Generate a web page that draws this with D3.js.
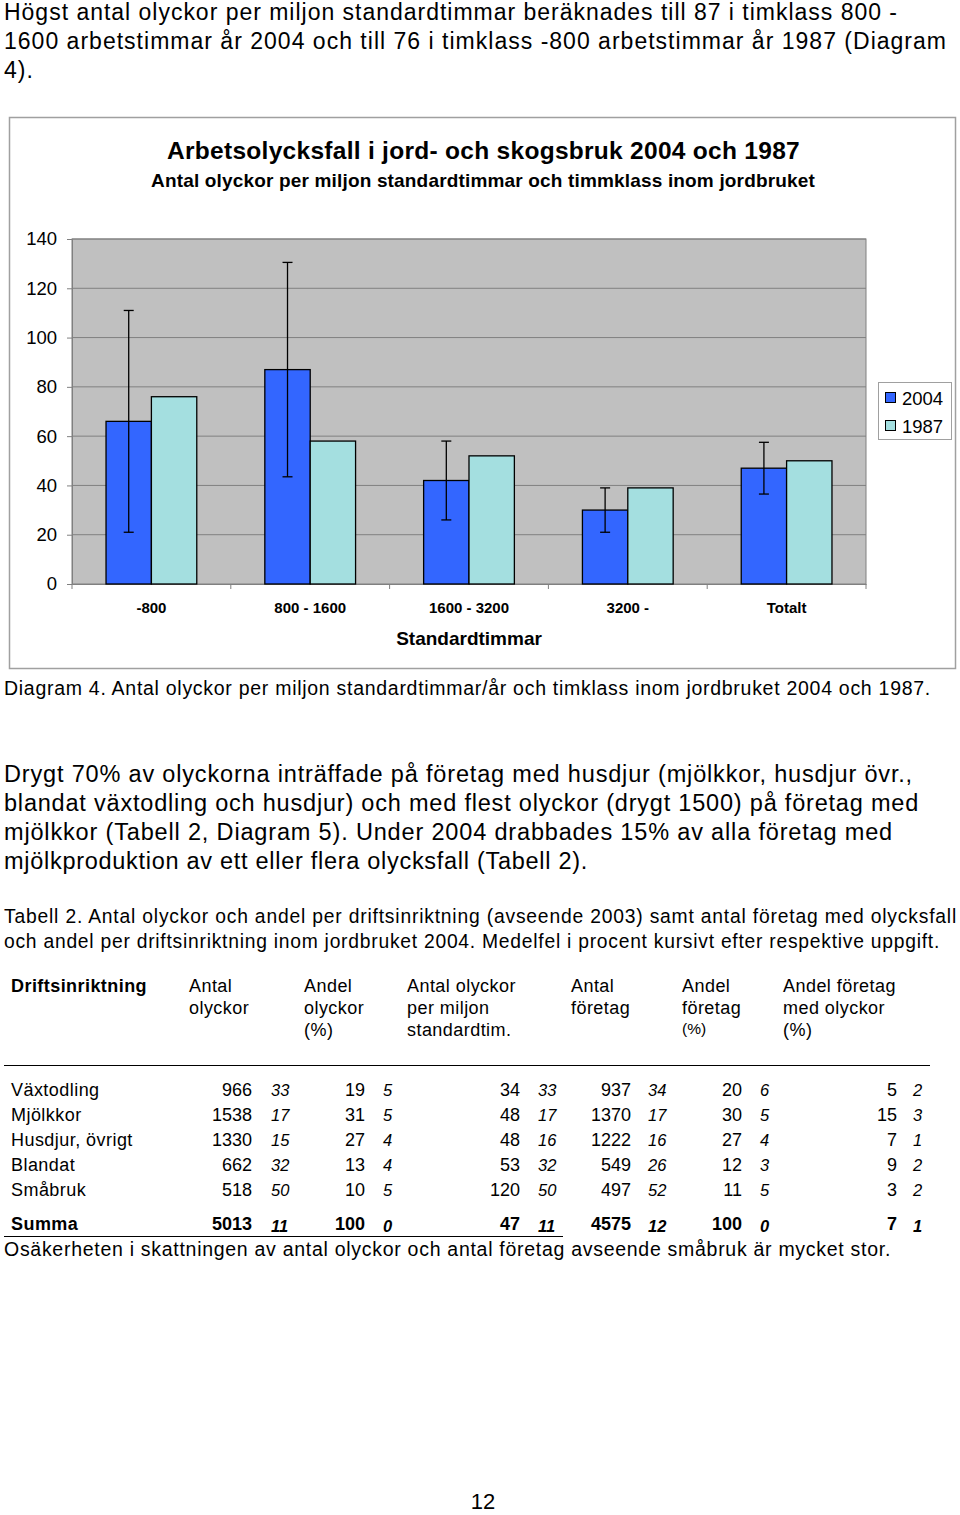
<!DOCTYPE html>
<html><head><meta charset="utf-8">
<script src="https://cdn.jsdelivr.net/npm/d3@7"></script>
<style>
body{margin:0;background:#fff;}
text{font-family:"Liberation Sans",Arial,sans-serif;fill:#000;}
</style></head>
<body>
<svg id="pg" width="960" height="1515"></svg>
<script>
// ---- chart data ----
const categories = ["-800", "800 - 1600", "1600 - 3200", "3200 -", "Totalt"];
const series = ["2004", "1987"];
const values2004 = [66, 87, 42, 30, 47];
const values1987 = [76, 58, 52, 39, 50];
const errors2004 = [45, 43.5, 16, 9, 10.5];
const yTicks = [0, 20, 40, 60, 80, 100, 120, 140];
const colors = ["#3366ff", "#a4dfe0"];

// ---- table data ----
const rowLabels = ["Växtodling", "Mjölkkor", "Husdjur, övrigt", "Blandat", "Småbruk"];
const antalOlyckor = [966, 1538, 1330, 662, 518];
const antalOlyckorErr = [33, 17, 15, 32, 50];
const andelOlyckor = [19, 31, 27, 13, 10];
const andelOlyckorErr = [5, 5, 4, 4, 5];
const perMiljon = [34, 48, 48, 53, 120];
const perMiljonErr = [33, 17, 16, 32, 50];
const antalForetag = [937, 1370, 1222, 549, 497];
const antalForetagErr = [34, 17, 16, 26, 52];
const andelForetag = [20, 30, 27, 12, 11];
const andelForetagErr = [6, 5, 4, 3, 5];
const andelMedOlyckor = [5, 15, 7, 9, 3];
const andelMedOlyckorErr = [2, 3, 1, 2, 2];
const summaLabel = "Summa";
const summa = [5013, 100, 47, 4575, 100, 7];
const summaErr = [11, 0, 11, 12, 0, 1];

const svg = d3.select("#pg");
svg.append("rect").attr("width",960).attr("height",1515).attr("fill","#fff");

// stretch a text line to a given width with letter-spacing
function fit(el, width) {
  const w = el.node().getComputedTextLength();
  const n = el.text().length;
  if (n > 1) el.attr("letter-spacing", ((width - w) / n).toFixed(3));
  return el;
}
function para(arr, x, y0, dy, size, ends) {
  let lastLs = 0;
  arr.forEach((t,i)=>{
    const el = svg.append("text").attr("x",x).attr("y",y0+i*dy).attr("font-size",size).text(t);
    if (ends[i] != null) { fit(el, ends[i]-x); lastLs = +el.attr("letter-spacing"); }
    else el.attr("letter-spacing", lastLs);
  });
}
function lines(arr, x, y0, dy, size, ls) {
  arr.forEach((t,i)=>{
    svg.append("text").attr("x",x).attr("y",y0+i*dy).attr("font-size",size)
      .attr("letter-spacing", ls||0).text(t);
  });
}

// intro paragraph
para(["Högst antal olyckor per miljon standardtimmar beräknades till 87 i timklass 800 -",
      "1600 arbetstimmar år 2004 och till 76 i timklass -800 arbetstimmar år 1987 (Diagram",
      "4)."], 4, 20, 29, 23, [898, 947, null]);

// chart frame
svg.append("rect").attr("x",9.5).attr("y",117.5).attr("width",946).attr("height",551)
  .attr("fill","#fff").attr("stroke","#a0a0a0").attr("stroke-width",1.5);

fit(svg.append("text").attr("x",167).attr("y",159)
  .attr("font-size",24.5).attr("font-weight","bold").text("Arbetsolycksfall i jord- och skogsbruk 2004 och 1987"), 633);
fit(svg.append("text").attr("x",151).attr("y",187)
  .attr("font-size",19).attr("font-weight","bold").text("Antal olyckor per miljon standardtimmar och timmklass inom jordbruket"), 664);

const L=72, R=866, T=239, B=584;
const x0 = d3.scaleBand().domain(categories).range([L,R]).paddingInner(0).paddingOuter(0);
const bw = x0.bandwidth()/3.5;
const x1 = d3.scaleBand().domain(series).range([0, 2*bw]);
const y = d3.scaleLinear().domain([0,140]).range([B,T]);

svg.append("rect").attr("x",L).attr("y",T).attr("width",R-L).attr("height",B-T)
  .attr("fill","#c0c0c0").attr("stroke","#808080").attr("stroke-width",1);

// gridlines
svg.append("g").selectAll("line").data(yTicks.filter(d=>d>0)).join("line")
  .attr("x1",L).attr("x2",R).attr("y1",d=>y(d)).attr("y2",d=>y(d))
  .attr("stroke","#808080").attr("stroke-width",1);

// y axis
const yAxis = svg.append("g").attr("transform",`translate(${L},0)`)
  .call(d3.axisLeft(y).tickValues(yTicks).tickSize(5).tickPadding(10));
yAxis.select(".domain").attr("stroke","#808080");
yAxis.selectAll(".tick line").attr("stroke","#808080");
yAxis.selectAll("text").attr("font-size",18.5).attr("font-family","Liberation Sans, Arial, sans-serif").attr("fill","#000");

// x axis
const xAxis = svg.append("g").attr("transform",`translate(0,${B})`)
  .call(d3.axisBottom(x0).tickSize(0).tickPadding(18));
xAxis.select(".domain").attr("stroke","#808080");
xAxis.selectAll("text").attr("font-size",15).attr("font-weight","bold")
  .attr("font-family","Liberation Sans, Arial, sans-serif").attr("fill","#000");
// boundary ticks
const bounds = categories.map(c=>x0(c)).concat([R]);
svg.append("g").selectAll("line").data(bounds).join("line")
  .attr("x1",d=>d).attr("x2",d=>d).attr("y1",B).attr("y2",B+5).attr("stroke","#808080");

svg.append("text").attr("x",(L+R)/2).attr("y",645).attr("text-anchor","middle")
  .attr("font-size",19).attr("font-weight","bold").text("Standardtimmar");

// bars
const data = categories.map((c,i)=>({c, v:[values2004[i], values1987[i]], e:errors2004[i]}));
const g = svg.append("g");
data.forEach(d=>{
  const off = x0(d.c) + (x0.bandwidth()-2*bw)/2;
  series.forEach((s,j)=>{
    g.append("rect").attr("x",off+x1(s)).attr("y",y(d.v[j]))
      .attr("width",x1.bandwidth()).attr("height",B-y(d.v[j]))
      .attr("fill",colors[j]).attr("stroke","#000").attr("stroke-width",1.3);
  });
  const cx = off + x1("2004") + x1.bandwidth()/2;
  const top = y(d.v[0]+d.e), bot = y(d.v[0]-d.e);
  g.append("line").attr("x1",cx).attr("x2",cx).attr("y1",top).attr("y2",bot).attr("stroke","#000").attr("stroke-width",1.3);
  [top,bot].forEach(yy=>g.append("line").attr("x1",cx-5).attr("x2",cx+5).attr("y1",yy).attr("y2",yy).attr("stroke","#000").attr("stroke-width",1.3));
});

// legend
svg.append("rect").attr("x",878.5).attr("y",382.5).attr("width",73).attr("height",57)
  .attr("fill","#fff").attr("stroke","#a0a0a0");
series.forEach((s,j)=>{
  svg.append("rect").attr("x",885.5).attr("y",392.5+j*28).attr("width",10).attr("height",10)
    .attr("fill",colors[j]).attr("stroke","#000");
  svg.append("text").attr("x",902).attr("y",405+j*28).attr("font-size",18.5).text(s);
});

// caption
fit(svg.append("text").attr("x",4).attr("y",695).attr("font-size",19.5)
  .text("Diagram 4. Antal olyckor per miljon standardtimmar/år och timklass inom jordbruket 2004 och 1987."), 927);

para(["Drygt 70% av olyckorna inträffade på företag med husdjur (mjölkkor, husdjur övr.,",
      "blandat växtodling och husdjur) och med flest olyckor (drygt 1500) på företag med",
      "mjölkkor (Tabell 2, Diagram 5). Under 2004 drabbades 15% av alla företag med",
      "mjölkproduktion av ett eller flera olycksfall (Tabell 2)."], 4, 782, 29, 23.5, [913, 919, 893, 588]);

para(["Tabell 2. Antal olyckor och andel per driftsinriktning (avseende 2003) samt antal företag med olycksfall",
      "och andel per driftsinriktning inom jordbruket 2004. Medelfel i procent kursivt efter respektive uppgift."],
     4, 923, 25, 19.3, [957, 940]);

// table header
fit(svg.append("text").attr("x",11).attr("y",992).attr("font-size",18).attr("font-weight","bold").text("Driftsinriktning"), 136);
const hls = 0.45;
lines(["Antal","olyckor"],189,992,22,18,hls);
lines(["Andel","olyckor","(%)"],304,992,22,18,hls);
lines(["Antal olyckor","per miljon","standardtim."],407,992,22,18,hls);
lines(["Antal","företag"],571,992,22,18,hls);
lines(["Andel","företag"],682,992,22,18,hls);
svg.append("text").attr("x",682).attr("y",1034).attr("font-size",15.5).text("(%)");
lines(["Andel företag","med olyckor","(%)"],783,992,22,18,hls);

svg.append("line").attr("x1",4).attr("x2",930).attr("y1",1065.5).attr("y2",1065.5).attr("stroke","#000").attr("stroke-width",1.2);

const cols = [
  {v:antalOlyckor, e:antalOlyckorErr, r:252, i:271},
  {v:andelOlyckor, e:andelOlyckorErr, r:365, i:383},
  {v:perMiljon, e:perMiljonErr, r:520, i:538},
  {v:antalForetag, e:antalForetagErr, r:631, i:648},
  {v:andelForetag, e:andelForetagErr, r:742, i:760},
  {v:andelMedOlyckor, e:andelMedOlyckorErr, r:897, i:913}
];
rowLabels.forEach((lab,k)=>{
  const yy = 1096 + k*25.1;
  svg.append("text").attr("x",11).attr("y",yy).attr("font-size",18).attr("letter-spacing",hls).text(lab);
  cols.forEach(c=>{
    svg.append("text").attr("x",c.r).attr("y",yy).attr("text-anchor","end").attr("font-size",18).text(c.v[k]);
    svg.append("text").attr("x",c.i).attr("y",yy).attr("font-size",16.5).attr("font-style","italic").text(c.e[k]);
  });
});
svg.append("text").attr("x",11).attr("y",1230).attr("font-size",18).attr("font-weight","bold").attr("letter-spacing",hls).text(summaLabel);
cols.forEach((c,j)=>{
  svg.append("text").attr("x",c.r).attr("y",1230).attr("text-anchor","end").attr("font-size",18).attr("font-weight","bold").text(summa[j]);
  svg.append("text").attr("x",c.i).attr("y",1232).attr("font-size",16.5).attr("font-style","italic").attr("font-weight","bold").text(summaErr[j]);
});
svg.append("line").attr("x1",4).attr("x2",563).attr("y1",1236.5).attr("y2",1236.5).attr("stroke","#000").attr("stroke-width",1.2);

fit(svg.append("text").attr("x",4).attr("y",1256).attr("font-size",19.5)
  .text("Osäkerheten i skattningen av antal olyckor och antal företag avseende småbruk är mycket stor."), 887);

svg.append("text").attr("x",483).attr("y",1509).attr("text-anchor","middle").attr("font-size",22)
  .attr("font-family","Liberation Serif, Times New Roman, serif").text("12");
</script>
</body></html>
